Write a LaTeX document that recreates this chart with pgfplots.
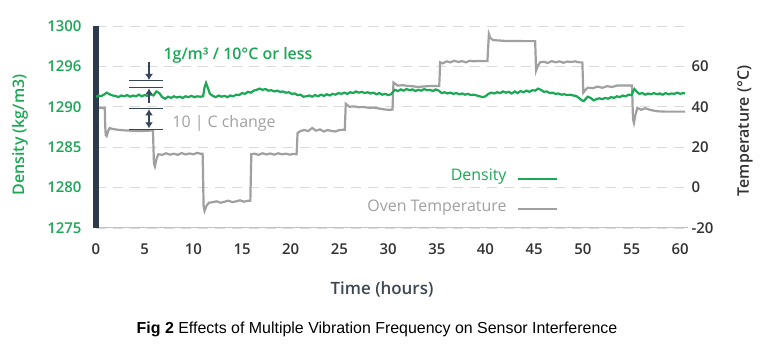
\documentclass[border=0pt]{standalone}
\usepackage{pgfplots}
\usepackage{pgfplotstable}
\pgfplotsset{compat=1.18}
\usepackage{fontspec}
\setmainfont{Open Sans}
\newfontfamily\osb{Open Sans Semibold}
\newfontfamily\arial{Liberation Sans}
\usetikzlibrary{arrows.meta}
\definecolor{dgreen}{RGB}{26,168,84}
\definecolor{tgray}{RGB}{160,160,160}
\definecolor{dbar}{RGB}{45,58,75}
\definecolor{tickdark}{RGB}{50,50,50}
\definecolor{gridc}{RGB}{218,218,218}
\definecolor{axgray}{RGB}{195,195,195}
\definecolor{arrc}{RGB}{55,70,90}

\pgfplotstableread{
h t
0.0 39.5
0.3 39.6
0.6 39.4
0.9 39.5
0.95 30
1.0 26
1.1 25.5
1.25 28
1.4 29.5
1.7 29
2.0 28.8
2.5 28.5
3.0 28.3
3.5 28.2
4.0 28.0
4.5 28.0
5.0 28.1
5.5 28.2
5.85 28.2
5.95 12
6.05 10.5
6.2 14
6.4 16.5
6.8 16.2
7.2 17
7.6 16.3
8.0 16.8
8.4 16.2
8.8 17.1
9.2 16.4
9.6 16.9
10.0 16.5
10.4 17.2
10.7 16.8
10.95 16.8
11.05 -9
11.15 -11.5
11.35 -9
11.6 -7.5
12.0 -7.2
12.4 -6.8
12.8 -7.5
13.2 -7
13.6 -6.5
14.0 -7.2
14.4 -6.8
14.8 -6.3
15.2 -7
15.6 -6.5
15.85 -6.5
15.95 16.5
16.3 16.8
16.7 16.2
17.1 17
17.5 16.4
17.9 16.9
18.3 16.3
18.7 17
19.1 16.5
19.5 16.8
19.9 16.3
20.3 16.7
20.6 16.5
20.7 27
21.0 28
21.4 28.5
21.8 28
22.2 29.5
22.6 28.2
23.0 28.8
23.4 27.8
23.8 28.5
24.2 28
24.6 27.8
25.0 28.5
25.4 28.6
25.55 28.6
25.65 41.5
25.8 41
26.0 40
26.5 40.2
27.0 39.8
27.5 39.9
28.0 39.5
28.5 39.6
29.0 39.2
29.5 38.8
30.0 38.5
30.45 38.6
30.55 52
30.7 51.5
31.0 50.5
31.5 50.7
32.0 50.3
32.5 50.2
33.0 49.8
33.5 50
34.0 50.2
34.5 50.3
35.0 50.3
35.25 50.3
35.35 62
35.6 61.5
36.0 62.5
36.4 62
36.8 62.8
37.2 62.2
37.6 62.6
38.0 62
38.4 62.8
38.8 62.5
39.2 62.7
39.6 62.6
40.2 62.6
40.35 76
40.5 74
40.8 73
41.5 72.8
42.0 72.6
43.0 72.6
44.0 72.5
45.0 72.5
45.1 72.5
45.2 58
45.35 60
45.6 62
46.0 62.3
46.4 61.7
46.8 62.6
47.2 62
47.6 62.5
48.0 61.8
48.4 62.4
48.8 62.2
49.2 62.5
49.6 62
49.95 62
50.05 47
50.2 48
50.5 49.5
51.0 49.2
51.5 50
52.0 49.4
52.5 50.2
53.0 49.8
53.5 50.5
54.0 50.5
54.5 50.5
55.05 50.5
55.15 34
55.25 32
55.4 36
55.6 39.5
56.0 38.5
56.4 39.3
56.8 38.6
57.2 38.2
57.6 37.8
58.0 37.7
58.5 37.6
59.0 37.6
59.5 37.6
60.0 37.6
60.5 37.6
}\temptable

\pgfplotstableread{
h d
0.0 1291.2
0.25 1291.4
0.5 1291.3
0.8 1291.5
1.1 1291.75
1.4 1291.55
1.7 1291.4
2.0 1291.35
2.3 1291.2
2.6 1291.4
2.9 1291.3
3.2 1291.45
3.5 1291.25
3.8 1291.4
4.1 1291.3
4.4 1291.5
4.7 1291.3
5.0 1291.45
5.3 1291.35
5.6 1291.55
5.9 1291.4
6.2 1291.9
6.5 1291.7
6.8 1291.2
7.1 1291.0
7.4 1291.25
7.7 1291.1
8.0 1291.3
8.3 1291.15
8.6 1291.25
8.9 1291.1
9.2 1291.3
9.5 1291.2
9.8 1291.35
10.1 1291.2
10.4 1291.3
10.7 1291.25
11.0 1291.3
11.15 1292.4
11.3 1292.95
11.5 1292.3
11.7 1291.6
12.0 1291.35
12.3 1291.2
12.6 1291.4
12.9 1291.25
13.2 1291.35
13.5 1291.2
13.8 1291.4
14.1 1291.3
14.4 1291.5
14.7 1291.45
15.0 1291.7
15.3 1291.6
15.6 1291.85
15.9 1291.75
16.2 1292.0
16.5 1292.1
16.8 1292.25
17.1 1292.1
17.4 1292.2
17.7 1292.0
18.0 1292.05
18.3 1291.9
18.6 1292.0
18.9 1291.85
19.2 1291.9
19.5 1291.75
19.8 1291.8
20.1 1291.6
20.4 1291.65
20.7 1291.45
21.0 1291.5
21.3 1291.25
21.6 1291.3
21.9 1291.4
22.2 1291.25
22.5 1291.45
22.8 1291.3
23.1 1291.5
23.4 1291.35
23.7 1291.55
24.0 1291.4
24.3 1291.6
24.6 1291.5
24.9 1291.7
25.2 1291.6
25.5 1291.75
25.8 1291.6
26.1 1291.8
26.4 1291.7
26.7 1291.9
27.0 1291.75
27.3 1291.85
27.6 1291.7
27.9 1291.8
28.2 1291.65
28.5 1291.75
28.8 1291.55
29.1 1291.7
29.4 1291.5
29.7 1291.6
30.0 1291.45
30.3 1291.55
30.5 1291.85
30.7 1292.1
31.0 1291.95
31.3 1292.15
31.6 1292.0
31.9 1292.2
32.2 1292.05
32.5 1292.15
32.8 1291.95
33.1 1292.1
33.4 1292.0
33.7 1292.2
34.0 1292.05
34.3 1292.1
34.6 1291.95
34.9 1292.15
35.2 1292.0
35.5 1291.7
35.8 1291.8
36.1 1291.65
36.4 1291.75
36.7 1291.6
37.0 1291.7
37.3 1291.55
37.6 1291.65
37.9 1291.5
38.2 1291.6
38.5 1291.45
38.8 1291.5
39.1 1291.4
39.4 1291.3
39.7 1291.2
40.0 1291.3
40.3 1291.6
40.6 1291.75
40.9 1291.65
41.2 1291.8
41.5 1291.7
41.8 1291.9
42.1 1291.75
42.4 1291.85
42.7 1291.65
43.0 1291.9
43.3 1291.7
43.6 1291.95
43.9 1291.8
44.2 1292.0
44.5 1291.85
44.8 1292.05
45.1 1292.0
45.4 1292.25
45.7 1292.1
46.0 1291.85
46.3 1291.9
46.6 1291.7
46.9 1291.75
47.2 1291.6
47.5 1291.65
47.8 1291.5
48.1 1291.55
48.4 1291.45
48.7 1291.5
49.0 1291.4
49.3 1291.35
49.6 1291.1
49.9 1290.8
50.1 1290.7
50.3 1291.0
50.5 1291.25
50.8 1291.1
51.1 1290.8
51.4 1290.95
51.7 1291.05
52.0 1290.95
52.3 1291.1
52.6 1291.0
52.9 1291.2
53.2 1291.1
53.5 1291.3
53.8 1291.2
54.1 1291.4
54.4 1291.3
54.7 1291.5
55.0 1291.45
55.15 1291.9
55.3 1292.2
55.5 1291.9
55.8 1291.6
56.1 1291.7
56.4 1291.5
56.7 1291.65
57.0 1291.55
57.3 1291.7
57.6 1291.55
57.9 1291.65
58.2 1291.5
58.5 1291.7
58.8 1291.55
59.1 1291.65
59.4 1291.6
59.7 1291.75
60.0 1291.6
60.3 1291.7
60.5 1291.65
}\denstable

\begin{document}
\begin{tikzpicture}
\useasboundingbox (0,0) rectangle (765bp,348bp);
% temperature axis (right)
\begin{axis}[
  at={(96bp,120bp)}, anchor=south west,
  scale only axis, width=592bp, height=202bp,
  xmin=0, xmax=60.8, ymin=-20, ymax=80,
  axis y line*=right, axis x line=none,
  y axis line style={draw=none},
  ytick={-20,0,20,40,60,80},
  yticklabels={-20,0,20,40,60,{}},
  major tick length=0pt,
  ymajorgrids,
  grid style={gridc, line width=0.8bp, dash pattern=on 10bp off 7bp},
  yticklabel style={font=\osb\fontsize{15}{15}\selectfont, text=tickdark, anchor=west, xshift=0bp},
  /pgf/number format/assume math mode=true,
]
\addplot[tgray, line width=2.2bp] table[x=h, y=t] {\temptable};
\end{axis}
% density axis (left)
\begin{axis}[
  at={(96bp,120bp)}, anchor=south west,
  scale only axis, width=592bp, height=202bp,
  xmin=0, xmax=60.8, ymin=1275, ymax=1300,
  axis y line*=left, axis x line*=bottom,
  y axis line style={line width=6bp, dbar},
  x axis line style={axgray, line width=1bp},
  xtick={0,5,...,60},
  ytick={1275,1280,1285,1290,1295,1300},
  yticklabels={1275,1280,1285,1290,1296,1300},
  major tick length=0pt,
  yticklabel style={font=\osb\fontsize{15}{15}\selectfont, text=dgreen, xshift=-11bp},
  xticklabel style={font=\osb\fontsize{15}{15}\selectfont, text=tickdark, yshift=-12bp},
  /pgf/number format/assume math mode=true,
  /pgf/number format/1000 sep={},
]
\addplot[dgreen, line width=2.2bp] table[x=h, y=d] {\denstable};
\end{axis}

\begin{scope}[yshift=348bp, x=1bp, y=-1bp]
  % annotation
  \node[text=dgreen, font=\osb\fontsize{16}{16}\selectfont] at (238,55) {1g/m³ / 10°C or less};
  \node[text=tgray, font=\fontsize{16}{16}\selectfont] at (224,123) {10 | C change};
  \draw[arrc, line width=1.2bp] (129,80.7) -- (163,80.7);
  \draw[arrc, line width=1.2bp] (129,87.7) -- (163,87.7);
  \draw[arrc, line width=1.2bp] (129,108.3) -- (163,108.3);
  \draw[arrc, line width=1.2bp] (129,129.3) -- (163,129.3);
  \draw[arrc, line width=1.2bp, -{Latex[length=6bp,width=8bp]}] (149,62) -- (149,80);
  \draw[arrc, line width=1.2bp, -{Latex[length=6bp,width=8bp]}] (149,103) -- (149,88.5);
  \draw[arrc, line width=1.2bp, {Latex[length=6bp,width=8bp]}-{Latex[length=6bp,width=8bp]}] (149,109.3) -- (149,128.3);
  % legend
  \node[anchor=east, text=dgreen, font=\fontsize{16}{16}\selectfont] at (510,177) {Density};
  \draw[dgreen, line width=2.5bp] (518,179) -- (557,179);
  \node[anchor=east, text=tgray, font=\fontsize{16}{16}\selectfont] at (510,208) {Oven Temperature};
  \draw[tgray, line width=2.5bp] (518,209) -- (557,209);
  % axis labels
  \node[rotate=90, text=dgreen, font=\osb\fontsize{16}{16}\selectfont] at (20,135) {Density (kg/m3)};
  \node[rotate=90, text=tickdark, font=\osb\fontsize{16}{16}\selectfont] at (745,131) {Temperature (°C)};
  \node[text={rgb,255:red,60;green,70;blue,85}, font=\osb\fontsize{17}{17}\selectfont] at (382,289) {Time (hours)};
  % caption
  \node[font=\arial\fontsize{16}{16}\selectfont, text=black] at (377,329) {\textbf{Fig 2} Effects of Multiple Vibration Frequency on Sensor Interference};
\end{scope}
\end{tikzpicture}
\end{document}
